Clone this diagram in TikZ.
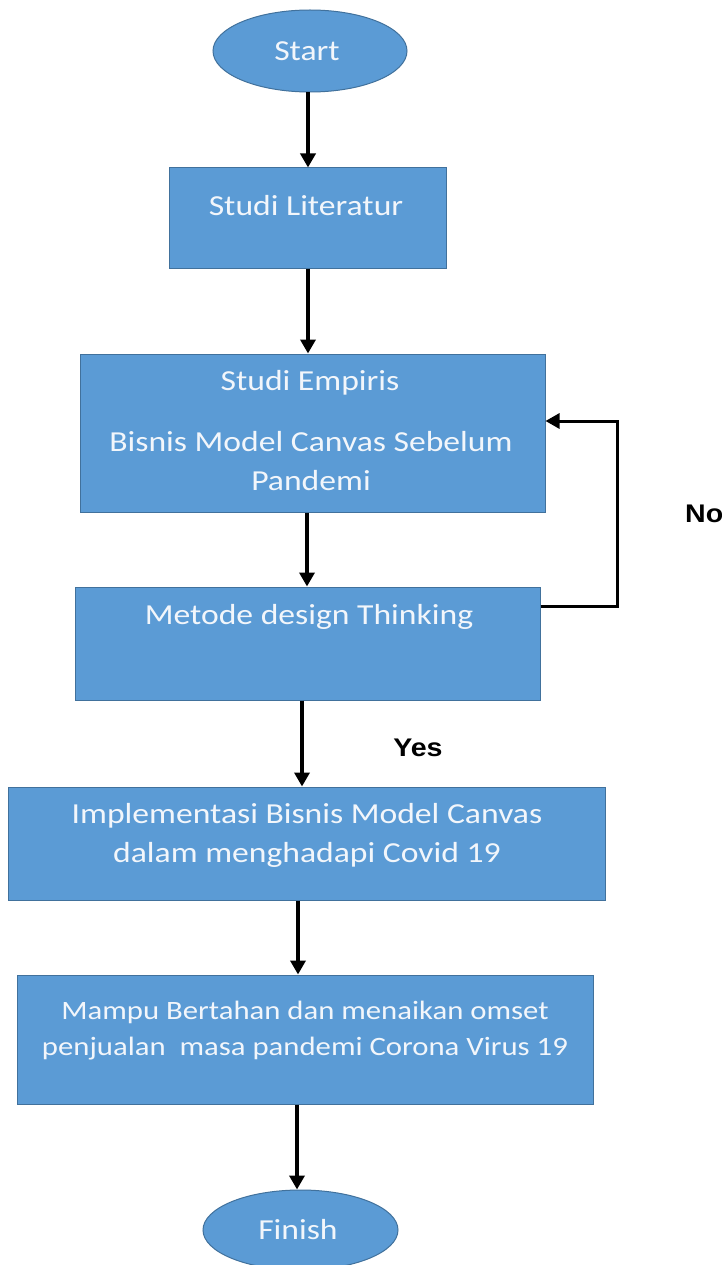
\documentclass[tikz,border=0pt]{standalone}
\usepackage{fontspec}
\setmainfont[FakeStretch=1.16]{Carlito}
\newfontfamily\arialfont[FakeStretch=1.12]{Liberation Sans}
\usetikzlibrary{shapes.geometric,arrows.meta}
\definecolor{boxfill}{HTML}{5B9BD5}
\definecolor{boxline}{HTML}{41719C}
\definecolor{txtcol}{HTML}{F2F6FB}
\tikzset{
  box/.style={draw=boxline, line width=1pt, fill=boxfill, rectangle, inner sep=0pt},
  oval/.style={draw=boxline, line width=1pt, fill=boxfill, ellipse, inner sep=0pt},
  txt/.style={text=txtcol, font=\fontsize{29}{38}\selectfont, align=center, inner sep=0pt},
  smalltxt/.style={text=txtcol, font=\fontsize{26.5}{37}\selectfont, align=center, inner sep=0pt},
  lbl/.style={text=black, font=\arialfont\bfseries\fontsize{25.5}{30}\selectfont, inner sep=0pt},
  arr/.style={draw=black, line width=3.5pt, -{Triangle[length=14pt,width=15pt]}},
  loopline/.style={draw=black, line width=3pt, -{Triangle[length=14pt,width=15pt]}}
}
\begin{document}
\begin{tikzpicture}[x=1pt,y=-1pt]
\useasboundingbox[fill=white] (0,0) rectangle (721,1265);
% shapes
\node[oval, minimum width=194pt, minimum height=82pt] (start) at (310,51) {};
\node[box, minimum width=277pt, minimum height=100pt] (lit) at (307.5,218) {};
\node[box, minimum width=465pt, minimum height=158pt] (emp) at (312.5,433) {};
\node[box, minimum width=465pt, minimum height=113pt] (met) at (307.5,643.5) {};
\node[box, minimum width=597pt, minimum height=113pt] (imp) at (306.5,843.5) {};
\node[box, minimum width=576pt, minimum height=129pt] (mam) at (305,1039.5) {};
\node[oval, minimum width=195pt, minimum height=80pt] (fin) at (300.5,1230) {};
% texts
\node[txt] (tstart) at (307,51) {Start};
\node[txt] (tlit) at (306,206) {Studi Literatur};
\node[txt] (temp1) at (310,383) {Studi Empiris};
\node[txt] (temp2) at (311,442) {Bisnis Model Canvas Sebelum};
\node[txt] (temp3) at (311,481) {Pandemi};
\node[txt] (tmet) at (309,617) {Metode design Thinking};
\node[txt] (timp1) at (307,816) {Implementasi Bisnis Model Canvas};
\node[txt] (timp2) at (307,855) {dalam menghadapi Covid 19};
\node[smalltxt] (tmam1) at (305,1012) {Mampu Bertahan dan menaikan omset};
\node[smalltxt] (tmam2) at (305,1049) {penjualan\ \ masa pandemi Corona Virus 19};
\node[txt] (tfin) at (298,1230) {Finish};
\node[lbl] (yes) at (418,748) {Yes};
\node[lbl, anchor=west] (no) at (685,514) {No};
% connectors
\draw[arr] (308,0 |- start.south) -- (308,0 |- lit.north);
\draw[arr] (308,0 |- lit.south) -- (308,0 |- emp.north);
\draw[arr] (307,0 |- emp.south) -- (307,0 |- met.north);
\draw[arr] (302,0 |- met.south) -- (302,0 |- imp.north);
\draw[arr] (298,0 |- imp.south) -- (298,0 |- mam.north);
\draw[arr] (297,0 |- mam.south) -- (297,0 |- fin.north);
\draw[loopline] (met.east |- 0,606) -| (617,421) -- (emp.east |- 0,421);
\end{tikzpicture}
\end{document}
